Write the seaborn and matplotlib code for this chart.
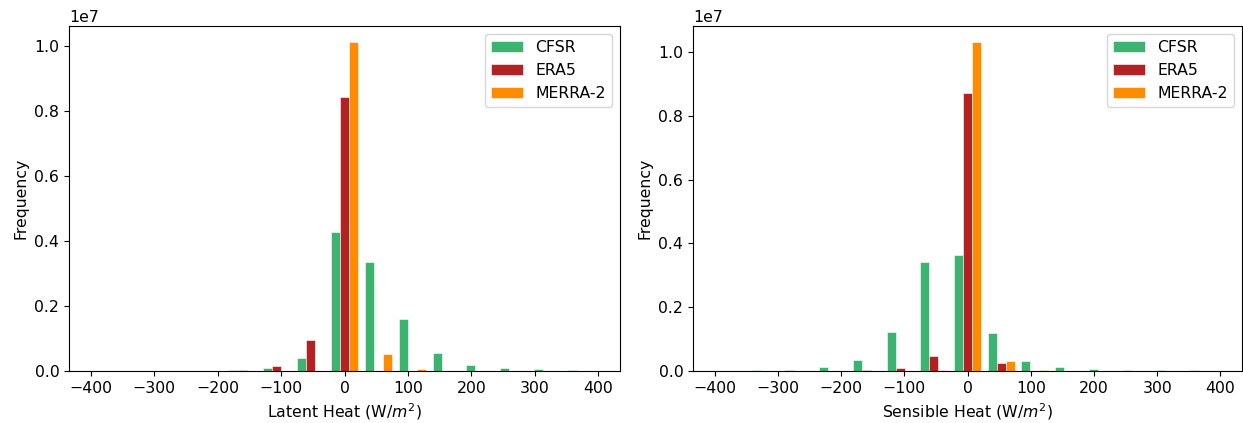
import numpy as np
import pandas as pd
import matplotlib
matplotlib.use("Agg")
import matplotlib.pyplot as plt
import seaborn as sns

# 15 bins over -400..400 W/m2 (counts, in units of 1e6)
bin_edges = np.linspace(-400, 400, 16)
bin_centers = (bin_edges[:-1] + bin_edges[1:]) / 2

datasets = ["CFSR", "ERA5", "MERRA-2"]
palette = {"CFSR": "#3cb371", "ERA5": "#b22222", "MERRA-2": "#ff8c00"}

latent_cfsr = [0, 0, 0, 0.005, 0.02, 0.10, 0.39, 4.27, 3.35, 1.60, 0.55, 0.20, 0.10, 0.06, 0.04]
latent_era5 = [0, 0, 0, 0, 0.02, 0.16, 0.95, 8.44, 0, 0, 0, 0, 0, 0, 0]
latent_merra = [0, 0, 0, 0, 0, 0, 0, 10.12, 0.51, 0.06, 0, 0, 0, 0, 0]

sensible_cfsr = [0.005, 0.02, 0.04, 0.13, 0.34, 1.23, 3.41, 3.63, 1.19, 0.30, 0.14, 0.07, 0.04, 0.02, 0.02]
sensible_era5 = [0, 0, 0, 0, 0.02, 0.085, 0.48, 8.71, 0.25, 0, 0, 0, 0, 0, 0]
sensible_merra = [0, 0, 0, 0, 0, 0, 0.04, 10.30, 0.30, 0.03, 0, 0, 0, 0, 0]

panels = [
    ("Latent Heat (W/$m^2$)", [latent_cfsr, latent_era5, latent_merra]),
    ("Sensible Heat (W/$m^2$)", [sensible_cfsr, sensible_era5, sensible_merra]),
]

plt.rcParams["font.family"] = ["DejaVu Sans"]
plt.rcParams["font.size"] = 11.3

W, H = 1243, 423
fig = plt.figure(figsize=(W / 100, H / 100), dpi=100)
# axes boxes in pixels: left, top, right, bottom
boxes = [(69, 26, 620, 371), (693, 26, 1242, 371)]
axes = [fig.add_axes([l / W, 1 - b / H, (r - l) / W, (b - t) / H]) for l, t, r, b in boxes]


def to_long(series_list):
    rows = []
    for name, counts in zip(datasets, series_list):
        for c, v in zip(bin_centers, counts):
            rows.append({"center": c, "count": v * 1e6, "dataset": name})
    return pd.DataFrame(rows)


for ax, (xlabel, series_list) in zip(axes, panels):
    df = to_long(series_list)
    sns.barplot(
        data=df, x="center", y="count", hue="dataset",
        hue_order=datasets, palette=palette, native_scale=True,
        width=0.8, dodge=True, errorbar=None, ax=ax,
        edgecolor="white", linewidth=0.4, saturation=1,
    )
    ax.set_xlim(-434, 434)
    ax.set_ylim(0, df["count"].max() * 1.05)
    ax.set_xticks(np.arange(-400, 401, 100))
    ax.set_xlabel(xlabel)
    ax.set_ylabel("Frequency")
    ax.legend(loc="upper right", title=None)

fig.savefig("out.png", dpi=100)
plt.close(fig)
